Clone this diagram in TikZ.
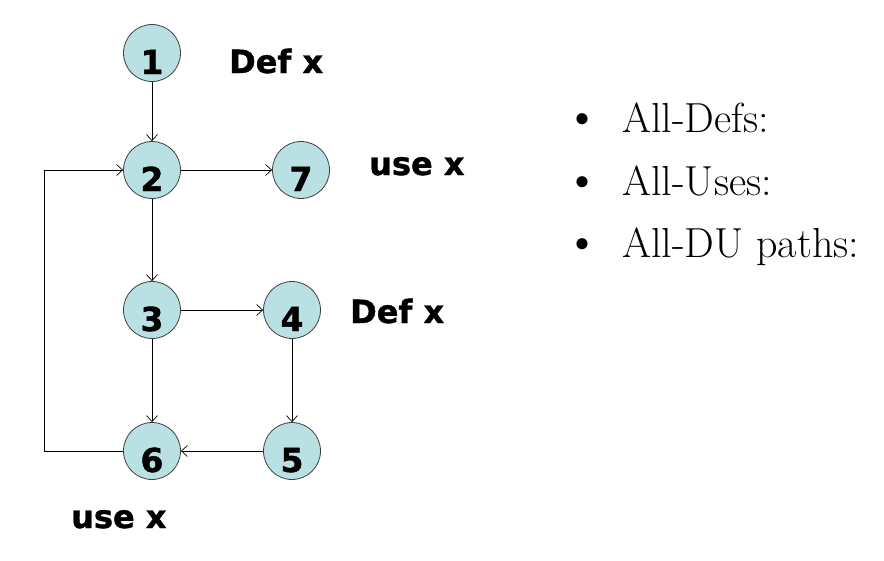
\documentclass[tikz,border=0pt]{standalone}
\usepackage{fontspec}
\newfontfamily\verdfont{DejaVu Sans}[BoldFeatures={FakeBold=1.2}]
\usetikzlibrary{arrows.meta,positioning}
\definecolor{blkfill}{RGB}{185,224,226}

\begin{document}
\begin{tikzpicture}[
    x=1pt, y=-1pt,
    >={Straight Barb[length=6pt,width=11pt]},
    blk/.style   = {circle, draw=black!75, fill=blkfill, line width=0.8pt,
                    minimum size=57pt, inner sep=0pt,
                    font=\verdfont\bfseries\fontsize{33}{33}\selectfont,
                    text height=42pt, text depth=0pt},
    flow/.style  = {line width=0.7pt,->},
    note/.style  = {anchor=base west, inner sep=0pt,
                    font=\verdfont\bfseries\fontsize{32}{32}\selectfont},
    item/.style  = {anchor=base west, inner sep=0pt,
                    font=\fontsize{42}{42}\selectfont}
  ]
  \useasboundingbox (0,0) rectangle (884,560);

  %–––– flow graph nodes ––––
  \node[blk] (n1) at (152, 53) {1};
  \node[blk] (n2) at (152,170) {2};
  \node[blk] (n7) at (301,170) {7};
  \node[blk] (n3) at (152,310) {3};
  \node[blk] (n4) at (292,310) {4};
  \node[blk] (n6) at (152,451) {6};
  \node[blk] (n5) at (292,451) {5};

  %–––– def / use notes ––––
  \node[note] (d1) at (229, 73) {Def x};
  \node[note] (u7) at (369,175) {use x};
  \node[note] (d4) at (350,323) {Def x};
  \node[note] (u6) at ( 71,528) {use x};

  %–––– edges ––––
  \draw[flow] (n1) -- (n2);
  \draw[flow] (n2) -- (n7);
  \draw[flow] (n2) -- (n3);
  \draw[flow] (n3) -- (n4);
  \draw[flow] (n3) -- (n6);
  \draw[flow] (n4) -- (n5);
  \draw[flow] (n5) -- (n6);

  % back edge 6 -> 2
  \coordinate (back) at (44,451);
  \draw[flow] (n6) -- (back) |- (n2);

  %–––– coverage criteria ––––
  \newcommand{\itm}{\llap{\fontsize{50}{50}\selectfont\textbullet\hspace{22pt}}}
  \node[item] (c1) at (622,132) {\itm All-Defs:};
  \node[item] (c2) at (622,195) {\itm All-Uses:};
  \node[item] (c3) at (622,257) {\itm All-DU paths:};

\end{tikzpicture}
\end{document}
